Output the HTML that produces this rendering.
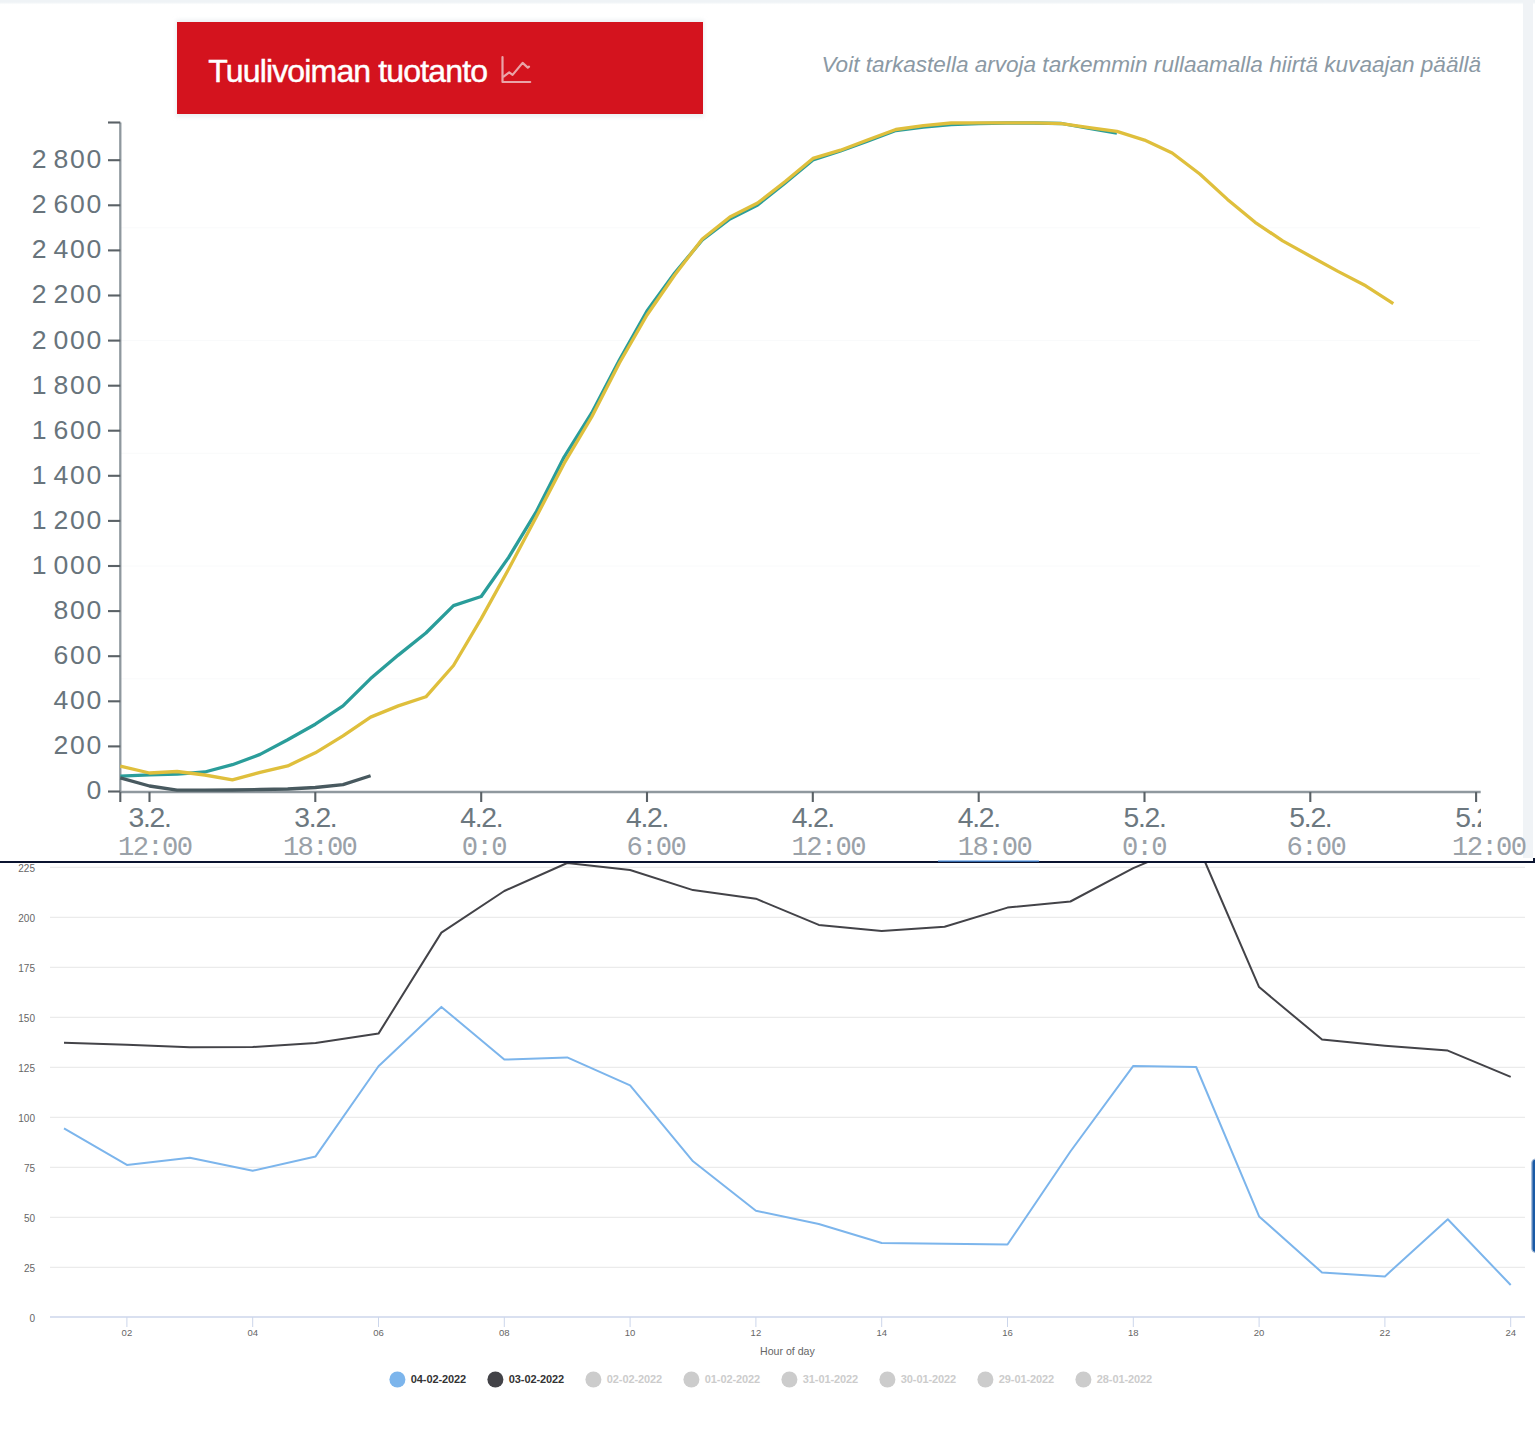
<!DOCTYPE html>
<html><head><meta charset="utf-8">
<style>
html,body{margin:0;padding:0;background:#fff;width:1535px;height:1438px;overflow:hidden;position:relative;font-family:"Liberation Sans",sans-serif;}
.abs{position:absolute;}
svg{position:absolute;left:0;top:0;}
</style></head><body>
<svg width="1535" height="1438" viewBox="0 0 1535 1438">
 <g stroke="#e6e6e6" stroke-width="1"><line x1="50" y1="1267.3" x2="1525" y2="1267.3"/><line x1="50" y1="1217.3" x2="1525" y2="1217.3"/><line x1="50" y1="1167.3" x2="1525" y2="1167.3"/><line x1="50" y1="1117.3" x2="1525" y2="1117.3"/><line x1="50" y1="1067.3" x2="1525" y2="1067.3"/><line x1="50" y1="1017.3" x2="1525" y2="1017.3"/><line x1="50" y1="967.3" x2="1525" y2="967.3"/><line x1="50" y1="917.3" x2="1525" y2="917.3"/><line x1="50" y1="867.3" x2="1525" y2="867.3"/></g>
 <line x1="50" y1="1317" x2="1525" y2="1317" stroke="#ccd6eb" stroke-width="1.5"/>
 <g stroke="#ccd6eb" stroke-width="1"><line x1="126.9" y1="1317" x2="126.9" y2="1327"/><line x1="252.7" y1="1317" x2="252.7" y2="1327"/><line x1="378.5" y1="1317" x2="378.5" y2="1327"/><line x1="504.3" y1="1317" x2="504.3" y2="1327"/><line x1="630.1" y1="1317" x2="630.1" y2="1327"/><line x1="755.9" y1="1317" x2="755.9" y2="1327"/><line x1="881.7" y1="1317" x2="881.7" y2="1327"/><line x1="1007.5" y1="1317" x2="1007.5" y2="1327"/><line x1="1133.3" y1="1317" x2="1133.3" y2="1327"/><line x1="1259.1" y1="1317" x2="1259.1" y2="1327"/><line x1="1384.9" y1="1317" x2="1384.9" y2="1327"/><line x1="1510.7" y1="1317" x2="1510.7" y2="1327"/></g>
 <g font-size="10" fill="#666666" text-anchor="end"><text x="35" y="1321.8">0</text><text x="35" y="1271.8">25</text><text x="35" y="1221.8">50</text><text x="35" y="1171.8">75</text><text x="35" y="1121.8">100</text><text x="35" y="1071.8">125</text><text x="35" y="1021.8">150</text><text x="35" y="971.8">175</text><text x="35" y="921.8">200</text><text x="35" y="871.8">225</text></g>
 <g font-size="9.5" fill="#666666" text-anchor="middle"><text x="126.9" y="1336">02</text><text x="252.7" y="1336">04</text><text x="378.5" y="1336">06</text><text x="504.3" y="1336">08</text><text x="630.1" y="1336">10</text><text x="755.9" y="1336">12</text><text x="881.7" y="1336">14</text><text x="1007.5" y="1336">16</text><text x="1133.3" y="1336">18</text><text x="1259.1" y="1336">20</text><text x="1384.9" y="1336">22</text><text x="1510.7" y="1336">24</text></g>
 <text x="787.4" y="1355.3" font-size="10.6" fill="#666666" text-anchor="middle">Hour of day</text>
 <polyline points="64.0,1042.7 126.9,1044.7 189.8,1047.3 252.7,1047.0 315.6,1043.0 378.5,1033.6 441.4,932.6 504.3,891.0 567.2,863.0 630.1,870.0 693.0,890.1 755.9,898.7 818.8,924.9 881.7,931.0 944.6,926.7 1007.5,907.6 1070.4,901.5 1133.3,868.1 1196.2,841.5 1259.1,987.1 1322.0,1039.6 1384.9,1045.7 1447.8,1050.6 1510.7,1076.9" fill="none" stroke="#434348" stroke-width="2" stroke-linejoin="round"/>
 <polyline points="64.0,1128.4 126.9,1164.9 189.8,1157.7 252.7,1170.7 315.6,1156.4 378.5,1066.2 441.4,1006.9 504.3,1059.6 567.2,1057.4 630.1,1085.4 693.0,1161.3 755.9,1210.8 818.8,1224.0 881.7,1243.0 944.6,1243.7 1007.5,1244.5 1070.4,1151.5 1133.3,1065.9 1196.2,1067.0 1259.1,1216.4 1322.0,1272.5 1384.9,1276.4 1447.8,1219.3 1510.7,1285.0" fill="none" stroke="#7cb5ec" stroke-width="2" stroke-linejoin="round"/>
 <g font-size="11" font-weight="bold" letter-spacing="-0.1"><circle cx="397.4" cy="1379.5" r="8" fill="#7cb5ec"/><text x="410.8" y="1383.2" fill="#333333">04-02-2022</text><circle cx="495.4" cy="1379.5" r="8" fill="#434348"/><text x="508.8" y="1383.2" fill="#333333">03-02-2022</text><circle cx="593.4" cy="1379.5" r="8" fill="#cccccc"/><text x="606.8" y="1383.2" fill="#cccccc">02-02-2022</text><circle cx="691.4" cy="1379.5" r="8" fill="#cccccc"/><text x="704.8" y="1383.2" fill="#cccccc">01-02-2022</text><circle cx="789.4" cy="1379.5" r="8" fill="#cccccc"/><text x="802.8" y="1383.2" fill="#cccccc">31-01-2022</text><circle cx="887.4" cy="1379.5" r="8" fill="#cccccc"/><text x="900.8" y="1383.2" fill="#cccccc">30-01-2022</text><circle cx="985.4" cy="1379.5" r="8" fill="#cccccc"/><text x="998.8" y="1383.2" fill="#cccccc">29-01-2022</text><circle cx="1083.4" cy="1379.5" r="8" fill="#cccccc"/><text x="1096.8" y="1383.2" fill="#cccccc">28-01-2022</text></g>
 <rect x="1531.8" y="1159" width="10" height="93.5" rx="4" fill="#1a5aa6" stroke="#a8bdd9" stroke-width="1.3"/>
 <!-- top screenshot -->
 <rect x="0" y="0" width="1533" height="861" fill="#ffffff"/>
 <linearGradient id="tb" x1="0" y1="0" x2="0" y2="1"><stop offset="0" stop-color="#eff3f6"/><stop offset="0.45" stop-color="#eff3f6"/><stop offset="1" stop-color="#ffffff"/></linearGradient>
 <rect x="0" y="0" width="1535" height="4.6" fill="url(#tb)"/>
 <rect x="1523" y="0" width="10" height="858" fill="#f0f3f6"/>
 <filter id="sh" x="-10%" y="-30%" width="120%" height="160%"><feGaussianBlur stdDeviation="2"/></filter>
 <rect x="176" y="20" width="528" height="97" fill="#dfe4e8" opacity="0.6" filter="url(#sh)"/>
 <rect x="177" y="22" width="526" height="92" fill="#d4131e"/>
 <g stroke="#f9fafb" stroke-width="1"><line x1="121" y1="678.8" x2="1480" y2="678.8"/><line x1="121" y1="566.0" x2="1480" y2="566.0"/><line x1="121" y1="453.3" x2="1480" y2="453.3"/><line x1="121" y1="340.6" x2="1480" y2="340.6"/><line x1="121" y1="227.8" x2="1480" y2="227.8"/></g>
 <g stroke="#8f989e" stroke-width="2.3">
  <line x1="120.3" y1="122.5" x2="120.3" y2="792"/>
  <line x1="120.3" y1="792" x2="1480.7" y2="792"/>
 </g>
 <g stroke="#5a6166" stroke-width="2.1">
  <line x1="108" y1="122.5" x2="120.3" y2="122.5"/>
  <line x1="108" y1="791.5" x2="120.3" y2="791.5"/><!--t x="103" y="799.4">0--><line x1="108" y1="746.4" x2="120.3" y2="746.4"/><!--t x="103" y="754.3">200--><line x1="108" y1="701.3" x2="120.3" y2="701.3"/><!--t x="103" y="709.2">400--><line x1="108" y1="656.2" x2="120.3" y2="656.2"/><!--t x="103" y="664.1">600--><line x1="108" y1="611.1" x2="120.3" y2="611.1"/><!--t x="103" y="619.0">800--><line x1="108" y1="566.0" x2="120.3" y2="566.0"/><!--t x="103" y="573.9">1 000--><line x1="108" y1="520.9" x2="120.3" y2="520.9"/><!--t x="103" y="528.8">1 200--><line x1="108" y1="475.8" x2="120.3" y2="475.8"/><!--t x="103" y="483.7">1 400--><line x1="108" y1="430.7" x2="120.3" y2="430.7"/><!--t x="103" y="438.6">1 600--><line x1="108" y1="385.7" x2="120.3" y2="385.7"/><!--t x="103" y="393.6">1 800--><line x1="108" y1="340.6" x2="120.3" y2="340.6"/><!--t x="103" y="348.5">2 000--><line x1="108" y1="295.5" x2="120.3" y2="295.5"/><!--t x="103" y="303.4">2 200--><line x1="108" y1="250.4" x2="120.3" y2="250.4"/><!--t x="103" y="258.3">2 400--><line x1="108" y1="205.3" x2="120.3" y2="205.3"/><!--t x="103" y="213.2">2 600--><line x1="108" y1="160.2" x2="120.3" y2="160.2"/><!--t x="103" y="168.1">2 800-->
  <line x1="120.3" y1="792" x2="120.3" y2="802"/><line x1="149.5" y1="792" x2="149.5" y2="802"/><line x1="315.3" y1="792" x2="315.3" y2="802"/><line x1="481.2" y1="792" x2="481.2" y2="802"/><line x1="647.0" y1="792" x2="647.0" y2="802"/><line x1="812.8" y1="792" x2="812.8" y2="802"/><line x1="978.7" y1="792" x2="978.7" y2="802"/><line x1="1144.5" y1="792" x2="1144.5" y2="802"/><line x1="1310.3" y1="792" x2="1310.3" y2="802"/><line x1="1476.1" y1="792" x2="1476.1" y2="802"/>
 </g>
 <g font-size="26.6" fill="#68747c" text-anchor="end" letter-spacing="1.7" word-spacing="-3.8"><text x="103" y="799.4">0</text><text x="103" y="754.3">200</text><text x="103" y="709.2">400</text><text x="103" y="664.1">600</text><text x="103" y="619.0">800</text><text x="103" y="573.9">1 000</text><text x="103" y="528.8">1 200</text><text x="103" y="483.7">1 400</text><text x="103" y="438.6">1 600</text><text x="103" y="393.6">1 800</text><text x="103" y="348.5">2 000</text><text x="103" y="303.4">2 200</text><text x="103" y="258.3">2 400</text><text x="103" y="213.2">2 600</text><text x="103" y="168.1">2 800</text></g>
 <clipPath id="xc"><rect x="0" y="795" width="1481" height="40"/></clipPath>
 <g font-size="28.3" letter-spacing="-1.27" fill="#6c7880" text-anchor="middle" clip-path="url(#xc)"><text x="149.6" y="826.6">3.2.</text><text x="315.4" y="826.6">3.2.</text><text x="481.3" y="826.6">4.2.</text><text x="647.1" y="826.6">4.2.</text><text x="812.9" y="826.6">4.2.</text><text x="978.8" y="826.6">4.2.</text><text x="1144.6" y="826.6">5.2.</text><text x="1310.4" y="826.6">5.2.</text><text x="1476.2" y="826.6">5.2.</text></g>
 <g font-family="Liberation Mono" font-size="27.2" letter-spacing="-1.65" fill="#9aa1a8"><text x="118.0" y="854.6">12:00</text><text x="282.9" y="854.6">18:00</text><text x="461.8" y="854.6">0:0</text><text x="626.5" y="854.6">6:00</text><text x="791.5" y="854.6">12:00</text><text x="957.8" y="854.6">18:00</text><text x="1121.9" y="854.6">0:0</text><text x="1286.5" y="854.6">6:00</text><text x="1452.1" y="854.6">12:00</text></g>
 <polyline points="120.3,776.2 149.5,774.9 177.1,774.2 204.8,772.0 232.4,764.7 260.1,754.4 287.7,739.8 315.3,724.2 343.0,705.9 370.6,678.6 398.3,655.1 425.9,633.0 453.5,605.6 481.2,596.5 508.8,557.2 536.5,511.3 564.1,457.1 591.7,413.0 619.4,360.0 647.0,311.0 674.7,273.0 702.3,240.0 729.9,219.0 757.6,205.0 785.2,183.0 812.9,160.0 840.5,151.0 868.1,141.0 895.8,130.5 923.4,127.0 951.1,124.5 978.7,123.5 1006.3,123.0 1034.0,123.0 1061.6,123.5 1089.3,128.5 1116.9,133.0" fill="none" stroke="#2a9d9a" stroke-width="3.3" stroke-linejoin="round"/>
 <polyline points="120.3,777.9 149.5,786.0 177.1,790.1 204.8,790.1 232.4,790.0 260.1,789.5 287.7,789.0 315.3,787.5 343.0,784.6 370.6,775.8" fill="none" stroke="#48595f" stroke-width="3.3" stroke-linejoin="round"/>
 <polyline points="120.3,766.1 149.5,773.0 177.1,771.5 204.8,775.0 232.4,779.8 260.1,772.4 287.7,765.9 315.3,752.8 343.0,735.9 370.6,717.1 398.3,705.9 425.9,696.8 453.5,665.5 481.2,618.6 508.8,568.7 536.5,516.5 564.1,463.4 591.7,417.0 619.4,363.0 647.0,315.0 674.7,275.0 702.3,239.0 729.9,217.0 757.6,203.0 785.2,181.5 812.9,158.4 840.5,150.2 868.1,139.8 895.8,129.5 923.4,125.6 951.1,123.0 978.7,122.8 1006.3,122.8 1034.0,122.8 1061.6,123.7 1089.3,127.7 1116.9,131.4 1144.5,140.1 1172.2,153.0 1199.8,174.0 1227.5,199.4 1255.1,222.3 1282.7,240.9 1310.4,256.2 1338.0,271.4 1365.7,285.8 1393.3,303.6" fill="none" stroke="#dfbf3c" stroke-width="3.3" stroke-linejoin="round"/>
 <text x="208.3" y="81.8" font-size="32" letter-spacing="-0.85" fill="#ffffff" stroke="#ffffff" stroke-width="0.45">Tuulivoiman tuotanto</text>
 <g fill="none" stroke="#eaa4a8" stroke-width="2.2" stroke-linecap="round" stroke-linejoin="round">
  <polyline points="502.5,57 502.5,82 530.2,82"/>
  <polyline points="503.6,76.6 509.2,72.3 512.6,74.9 522.6,62.9 527.8,67.6 529,66.6"/>
 </g>
 <text x="1481" y="71.8" font-size="22.55" font-style="italic" fill="#8b99a4" text-anchor="end">Voit tarkastella arvoja tarkemmin rullaamalla hiirt&#228; kuvaajan p&#228;&#228;ll&#228;</text>
 <rect x="0" y="861" width="1535" height="2" fill="#0b1430"/>
 <rect x="1533" y="858" width="2" height="5" fill="#0b1430"/>
 <rect x="938" y="860.5" width="101" height="1.2" fill="#4a90e2"/>
</svg>
</body></html>
